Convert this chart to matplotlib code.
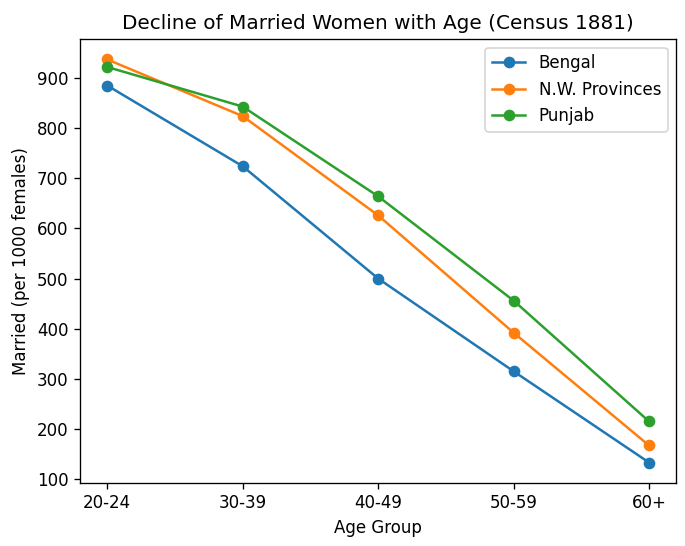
import matplotlib
matplotlib.use("Agg")
import matplotlib.pyplot as plt

age_groups = ["20-24", "30-39", "40-49", "50-59", "60+"]
bengal = [885, 724, 500, 315, 133]
nw_provinces = [937, 824, 626, 392, 167]
punjab = [922, 843, 664, 456, 215]

dpi = 120
fig, ax = plt.subplots(figsize=(685 / dpi, 546 / dpi), dpi=dpi)
ax.plot(age_groups, bengal, marker="o", label="Bengal")
ax.plot(age_groups, nw_provinces, marker="o", label="N.W. Provinces")
ax.plot(age_groups, punjab, marker="o", label="Punjab")
ax.set_title("Decline of Married Women with Age (Census 1881)")
ax.set_xlabel("Age Group")
ax.set_ylabel("Married (per 1000 females)")
ax.legend()
fig.subplots_adjust(left=0.117, right=0.987, top=0.928, bottom=0.116)
plt.savefig("out.png", dpi=dpi)
